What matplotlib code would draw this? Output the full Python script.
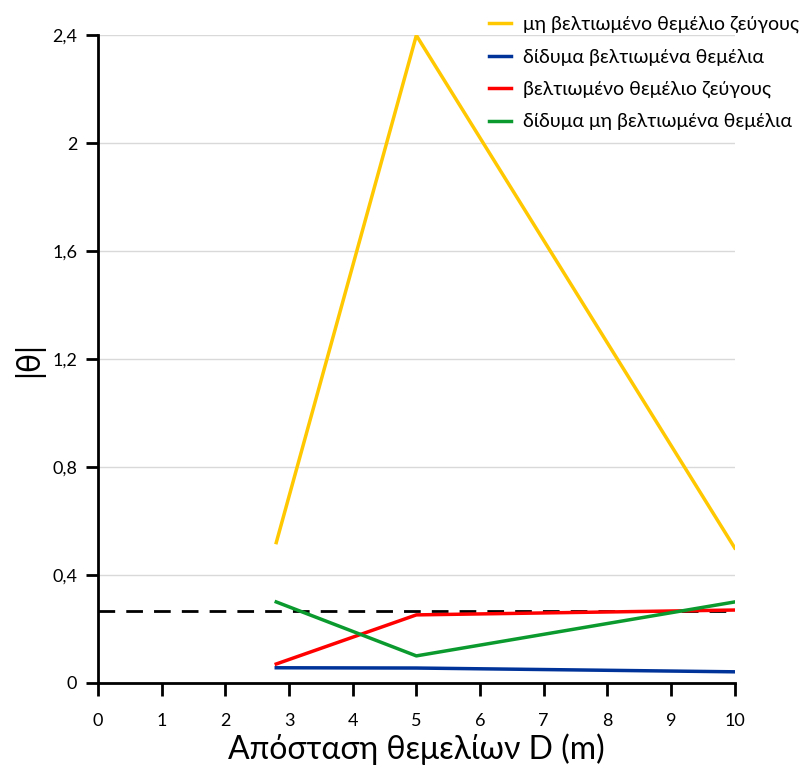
import matplotlib
matplotlib.use("Agg")
import matplotlib.pyplot as plt

plt.rcParams['font.family'] = ['Lato', 'DejaVu Sans']

# Distances between footings (m)
distance = [2.8, 5, 10]

# |θ| values per configuration
unimproved_pair = [0.52, 2.4, 0.50]
twin_improved = [0.056, 0.055, 0.041]
improved_pair = [0.07, 0.252, 0.27]
twin_unimproved = [0.30, 0.10, 0.30]

# Allowable limit line
limit_x = [0, 10]
limit_y = [0.267, 0.267]

series_labels = [
    "μη βελτιωμένο θεμέλιο ζεύγους",
    "δίδυμα βελτιωμένα θεμέλια",
    "βελτιωμένο θεμέλιο ζεύγους",
    "δίδυμα μη βελτιωμένα θεμέλια",
]
series_colors = ["#FFC800", "#003399", "#FF0000", "#0A9A2E"]

x_ticks = list(range(0, 11))
y_ticks = [0, 0.4, 0.8, 1.2, 1.6, 2.0, 2.4]
y_tick_labels = ["0", "0,4", "0,8", "1,2", "1,6", "2", "2,4"]

fig = plt.figure(figsize=(8.03, 7.69), dpi=100)
ax = fig.add_axes([0.122, 0.112, 0.793, 0.842])

for vals, lab, col in zip(
    [unimproved_pair, twin_improved, improved_pair, twin_unimproved],
    series_labels, series_colors):
    ax.plot(distance, vals, color=col, lw=2.5, label=lab, zorder=3)

ax.plot(limit_x, limit_y, color="black", lw=2, dashes=(6, 4), zorder=2)

ax.set_xlim(0, 10)
ax.set_ylim(0, 2.4)
ax.set_xticks(x_ticks)
ax.set_yticks(y_ticks)
ax.set_yticklabels(y_tick_labels)
ax.tick_params(axis="both", direction="out", length=9, width=2,
               labelsize=13, colors="black", pad=6)
ax.tick_params(axis="x", pad=13)
ax.grid(axis="y", color="#D9D9D9", lw=1)
ax.set_axisbelow(True)
for s in ["top", "right"]:
    ax.spines[s].set_visible(False)
for s in ["left", "bottom"]:
    ax.spines[s].set_linewidth(2)
    ax.spines[s].set_color("black")

ax.set_xlabel("Απόσταση θεμελίων D (m)", fontsize=23, labelpad=3)
ax.set_ylabel("|θ|", fontsize=23, labelpad=6)

fig.legend(loc="upper right", bbox_to_anchor=(1.017, 1.002), frameon=False,
           fontsize=14, handlelength=1.1, labelspacing=0.78,
           handletextpad=0.65)

fig.savefig("out.png", dpi=100)
